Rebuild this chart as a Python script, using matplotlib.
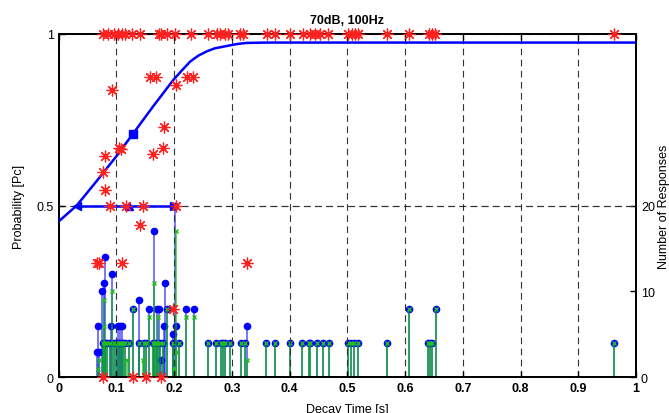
import matplotlib
matplotlib.use('Agg')
import matplotlib.pyplot as plt
import numpy as np

plt.rcParams['font.family'] = ['Liberation Sans', 'DejaVu Sans']

# psychometric curve
curve_x = [0.0, 0.031, 0.066, 0.1, 0.129, 0.164, 0.199, 0.214, 0.228, 0.242, 0.256, 0.27, 0.297, 0.31, 0.326, 0.36, 1.0]
curve_p = [0.454, 0.5, 0.572, 0.644, 0.71, 0.79, 0.867, 0.895, 0.92, 0.937, 0.949, 0.958, 0.967, 0.971, 0.974, 0.975, 0.975]

# threshold + interval
thr_x = 0.129
thr_p = 0.71
ci_lo = 0.031
ci_mid = 0.122
ci_hi = 0.199
ci_p = 0.5

# single responses (red asterisks)
resp_x = [0.077, 0.086, 0.095, 0.103, 0.109, 0.115, 0.127, 0.141, 0.173, 0.178, 0.187, 0.202,
          0.230, 0.259, 0.274, 0.280, 0.288, 0.294, 0.314, 0.320, 0.360, 0.375, 0.401, 0.424,
          0.436, 0.444, 0.453, 0.467, 0.502, 0.508, 0.514, 0.519, 0.568, 0.606, 0.641, 0.646,
          0.652, 0.961,
          0.092, 0.158, 0.169, 0.222, 0.233, 0.203, 0.183, 0.164, 0.180, 0.104, 0.108, 0.080,
          0.076, 0.080, 0.089, 0.117, 0.146, 0.204, 0.141, 0.067, 0.069, 0.109, 0.326, 0.198,
          0.076, 0.128, 0.151, 0.178]
resp_p = [1] * 38 + \
         [0.836, 0.875, 0.875, 0.875, 0.875, 0.850, 0.729, 0.649, 0.667, 0.667, 0.664, 0.644,
          0.598, 0.547, 0.5, 0.5, 0.5, 0.5, 0.443, 0.332, 0.334, 0.332, 0.334, 0.199,
          0, 0, 0, 0]

# number of responses (stems)
base_x = [0.076, 0.080, 0.084, 0.089, 0.095, 0.099, 0.102, 0.106, 0.109, 0.112, 0.115, 0.121,
          0.140, 0.147, 0.151, 0.164, 0.167, 0.171, 0.176, 0.181, 0.198, 0.209,
          0.259, 0.273, 0.281, 0.284, 0.288, 0.296, 0.315, 0.323, 0.359, 0.374, 0.401, 0.422,
          0.433, 0.436, 0.448, 0.457, 0.468, 0.501, 0.506, 0.512, 0.519, 0.568, 0.640, 0.644,
          0.647, 0.961]
base_n = [4] * len(base_x)

blue_x = [0.067, 0.070, 0.068, 0.075, 0.079, 0.081, 0.092, 0.090, 0.103, 0.106, 0.109, 0.128,
          0.140, 0.157, 0.165, 0.170, 0.174, 0.182, 0.185, 0.178, 0.187, 0.198, 0.204, 0.202,
          0.221, 0.234, 0.326, 0.607, 0.653]
blue_n = [3, 3, 6, 10, 11, 14, 12, 6, 6, 6, 6, 8,
          9, 8, 17, 8, 8, 6, 11, 2, 8, 5, 6, 20,
          8, 8, 6, 8, 8]

green_x = [0.079, 0.092, 0.078, 0.068, 0.070, 0.118, 0.128, 0.146, 0.157, 0.165, 0.172, 0.187,
           0.203, 0.204, 0.200, 0.221, 0.234, 0.326, 0.607, 0.653]
green_n = [9, 10, 6, 1, 2, 2, 8, 2, 7, 11, 7, 8,
           17, 3, 1, 7, 7, 2, 8, 8]

fig = plt.figure(figsize=(6.69, 4.14), dpi=100)
ax = fig.add_axes([0.0877, 0.0862, 0.8630, 0.8293])
ax2 = ax.twinx()
ax.set_zorder(2)
ax.patch.set_visible(False)

# stems on right axis
bx = base_x + blue_x
bn = base_n + blue_n
gx = base_x + green_x
gn = base_n + green_n
ax2.vlines(bx, 0, bn, color=(0.1, 0.1, 1.0), alpha=0.6, lw=1.4)
ax2.plot(bx, bn, 'o', color='#0000ff', ms=4.5, mec='#0000ff')
ax2.vlines(gx, 0, gn, color=(0.0, 0.72, 0.0), alpha=0.6, lw=1.4)
ax2.plot(gx, gn, 'x', color='#22bb22', ms=3.5, mew=1.0)

ax2.set_ylim(0, 40)
ax2.set_yticks([0, 10, 20])
ax2.axhline(20, color='#333333', lw=0.8, ls=(0, (6, 4)), zorder=0)
ax2.set_ylabel('Number of Responses', fontsize=9, labelpad=2)

# probability axis
ax.plot(resp_x, resp_p, ls='none', marker=(8, 2, 0), color='#ff2020', ms=8.5, mew=0.9,
        clip_on=False, zorder=5)
ax.plot(curve_x, curve_p, color='#0000ff', lw=1.8, zorder=4)
ax.plot([ci_lo, ci_hi], [ci_p, ci_p], color='#0000ff', lw=1.8, zorder=4)
ax.plot([ci_lo], [ci_p], marker='<', color='#0000ff', ms=6, zorder=4)
ax.plot([ci_mid], [ci_p], marker='^', color='#0000ff', ms=6, zorder=4)
ax.plot([ci_hi], [ci_p], marker='>', color='#0000ff', ms=6, zorder=4)
ax.plot([thr_x], [thr_p], marker='s', color='#0000ff', ms=6, zorder=4)

ax.set_xlim(0, 1)
ax.set_ylim(0, 1)
ax.set_xticks(np.arange(0, 1.01, 0.1))
ax.set_xticklabels(['0', '0.1', '0.2', '0.3', '0.4', '0.5', '0.6', '0.7', '0.8', '0.9', '1'],
                   fontweight='bold')
ax.set_yticks([0, 0.5, 1])
ax.set_yticklabels(['0', '0.5', '1'])
ax.grid(True, color='#333333', lw=0.8, ls=(0, (6, 4)))
ax.set_axisbelow(True)

ax.tick_params(direction='in', length=4, labelsize=9, top=True, width=1)
ax2.tick_params(direction='in', length=4, labelsize=9, width=1)
for a in (ax, ax2):
    for s in a.spines.values():
        s.set_linewidth(1.3)

ax.set_xlabel('Decay Time [s]', fontsize=9, labelpad=6)
ax.set_ylabel('Probability [Pc]', fontsize=9, labelpad=8)
ax.set_title('70dB, 100Hz', fontsize=9, fontweight='bold', pad=8)

fig.savefig('out.png', dpi=100)
